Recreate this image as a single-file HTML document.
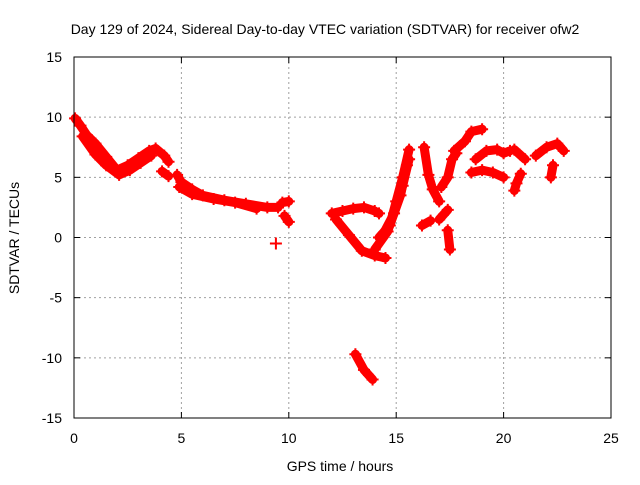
<!DOCTYPE html>
<html><head><meta charset="utf-8"><style>
body{margin:0;background:#fff}
svg{font-family:"Liberation Sans",sans-serif;font-size:14px}
</style></head><body>
<svg id="c" width="640" height="480">
<text x="325" y="34" text-anchor="middle">Day 129 of 2024, Sidereal Day-to-day VTEC variation (SDTVAR) for receiver ofw2</text>
<text x="340" y="471" text-anchor="middle">GPS time / hours</text>
<text transform="translate(19,238) rotate(-90)" text-anchor="middle">SDTVAR / TECUs</text>
<g id="grid"></g><g id="ticks"></g><g id="marks"></g>
<rect x="74" y="57" width="537" height="361" fill="none" stroke="#000"/>
</svg>
<script>
const xTicks=[0,5,10,15,20,25];
const yTicks=[-15,-10,-5,0,5,10,15];
const trackA=[[0.05,9.9],[0.3,9.3],[0.6,8.5],[1,7.8],[1.5,6.7],[2,5.6],[2.5,6],[3,6.6],[3.5,7.2],[3.8,7.4],[4.2,6.8],[4.4,6.3]];
const trackB=[[0.4,8.4],[1,6.9],[1.5,6],[2.1,5.2],[2.6,5.6],[3.1,6.2],[3.6,6.8]];
const trackC=[[4.1,5.5],[4.4,5.1]];
const trackD=[[4.8,5.2],[5,4.6],[5.5,4],[6,3.5],[7,3.1],[8,2.8],[9,2.5],[9.5,2.5]];
const trackD2=[[4.9,4.2],[5.5,3.6],[6.5,3.2],[7.5,2.9],[8.5,2.4]];
const trackE=[[9.7,2.9],[10,3.0]];
const trackF=[[9.8,1.8],[10,1.3]];
const trackG=[[9.4,-0.5]];
const trackH=[[12,2],[12.5,2.2],[13,2.4],[13.5,2.5],[14,2.2],[14.2,2]];
const trackI=[[12.2,1.5],[12.8,0.2],[13.4,-1.1],[14,-1.5],[14.5,-1.7]];
const trackJ=[[13.1,-9.7],[13.5,-11],[13.9,-11.8]];
const trackK=[[14.2,0],[14.7,1],[15,3],[15.3,5],[15.6,7.3]];
const trackL=[[14,-1],[14.6,0.5],[15.2,3.5],[15.5,6]];
const trackL2=[[14.4,0.3],[14.9,2],[15.3,4.3],[15.6,6.5]];
const trackM=[[16.3,7.5],[16.5,5.2],[16.7,4],[17,3]];
const trackN=[[17.1,4.2],[17.4,5],[17.6,6.5],[17.8,7]];
const trackO=[[17.7,7.2],[18.2,8],[18.5,8.8],[19,9]];
const trackP=[[18.7,6.5],[19.2,7.2],[19.7,7.3],[20,7],[20.3,7.2]];
const trackQ=[[18.5,5.4],[19,5.6],[19.5,5.4],[20,5]];
const trackR=[[20.5,7.3],[21,6.5]];
const trackS=[[20.8,5.3],[20.6,4.5],[20.5,3.9]];
const trackT=[[21.5,6.8],[22,7.5],[22.5,7.8],[22.8,7.2]];
const trackU=[[22.3,6],[22.2,5]];
const trackV=[[16.2,1],[16.6,1.4]];
const trackW=[[17,1.5],[17.4,2.3]];
const trackX=[[17.4,0.6],[17.5,-1]];
const tracks=[trackA,trackB,trackC,trackD,trackD2,trackE,trackF,trackG,trackH,trackI,trackJ,trackK,trackL,trackL2,trackM,trackN,trackO,trackP,trackQ,trackR,trackS,trackT,trackU,trackV,trackW,trackX];
const NS="http://www.w3.org/2000/svg";
function sx(v){return 74+v*537/25;}
function sy(v){return 237.5-v*361/30;}
function mk(t,a,p){const e=document.createElementNS(NS,t);for(const k in a)e.setAttribute(k,a[k]);p.appendChild(e);return e;}
const grid=document.getElementById('grid'),ticks=document.getElementById('ticks'),marks=document.getElementById('marks');
xTicks.forEach(v=>{const x=sx(v);
 if(v>0&&v<25){const l=mk('line',{x1:x,x2:x,y1:57,y2:418,stroke:'#a0a0a0','stroke-dasharray':'2,3'},grid);}
 mk('line',{x1:x,x2:x,y1:418,y2:412,stroke:'#000'},ticks);mk('line',{x1:x,x2:x,y1:57,y2:63,stroke:'#000'},ticks);
 const t=mk('text',{x:x,y:443,'text-anchor':'middle'},ticks);t.textContent=v;
 });
yTicks.forEach(v=>{const y=sy(v);
 if(v>-15&&v<15){const l=mk('line',{x1:74,x2:611,y1:y,y2:y,stroke:'#a0a0a0','stroke-dasharray':'2,3'},grid);}
 mk('line',{x1:74,x2:80,y1:y,y2:y,stroke:'#000'},ticks);mk('line',{x1:611,x2:605,y1:y,y2:y,stroke:'#000'},ticks);
 const t=mk('text',{x:62,y:y+5,'text-anchor':'end'},ticks);t.textContent=v;
 });
tracks.forEach(tr=>{
 if(tr.length>1){const p=mk('polyline',{points:tr.map(d=>sx(d[0])+','+sy(d[1])).join(' '),fill:'none',stroke:'#f00','stroke-width':9,'stroke-linejoin':'round','stroke-linecap':'round'},marks);
 }
 tr.forEach(d=>{const x=sx(d[0]),y=sy(d[1]);
  const g=mk('path',{d:`M${x-6},${y}H${x+6}M${x},${y-6}V${y+6}`,stroke:'#f00','stroke-width':2},marks);
  });
});
</script>
</body></html>
